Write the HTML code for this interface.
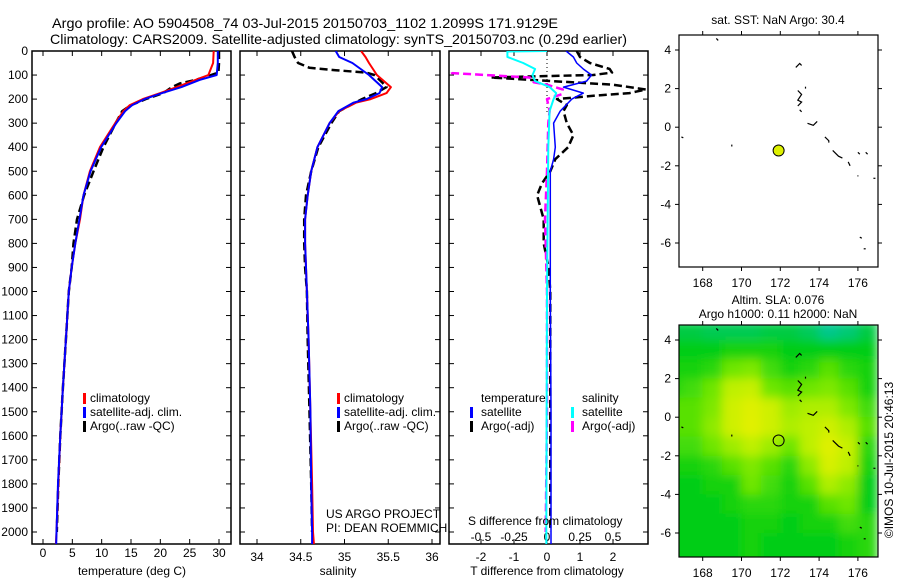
<!DOCTYPE html>
<html><head><meta charset="utf-8"><style>
html,body{margin:0;padding:0;background:#fff;}
svg{display:block;font-family:"Liberation Sans",sans-serif;}
</style></head><body>
<svg id="fig" width="900" height="580" viewBox="0 0 900 580" xmlns="http://www.w3.org/2000/svg">
<text x="52" y="28" font-size="14" textLength="506" lengthAdjust="spacingAndGlyphs">Argo profile: AO 5904508_74 03-Jul-2015 20150703_1102 1.2099S 171.9129E</text>
<text x="50" y="44" font-size="14" textLength="577" lengthAdjust="spacingAndGlyphs">Climatology: CARS2009. Satellite-adjusted climatology: synTS_20150703.nc (0.29d earlier)</text>
<g id="g"></g>
</svg>
<script>
// ---------- data ----------
const depthTicks = [0,100,200,300,400,500,600,700,800,900,1000,1100,1200,1300,1400,1500,1600,1700,1800,1900,2000];
const tempTicks = [0,5,10,15,20,25,30];
const salTicks = [34,34.5,35,35.5,36];
const tdiffTicks = [-2,-1,0,1,2];
const sdiffTicks = [-0.5,-0.25,0,0.25,0.5];
const sdiffTickLabels = ["-0.5","-0.25","0","0.25","0.5"];

const tDepth = [0,50,100,120,150,175,200,225,250,300,400,500,600,700,800,900,1000,1200,1400,1600,1800,2000,2050];
const tClim = [29.1,29.0,28.2,26.0,22.8,20.0,17.0,14.8,13.7,12.3,9.7,8.0,6.9,6.3,5.5,4.9,4.4,3.9,3.4,2.95,2.6,2.3,2.2];
const tSat  = [29.8,29.8,29.6,26.7,23.6,20.3,17.3,15.2,14.0,12.5,9.9,8.1,6.9,6.2,5.5,4.9,4.4,3.9,3.4,2.95,2.55,2.3,2.25];
const tArgoDepth = [0,50,90,105,120,135,150,175,200,225,250,300,400,500,550,600,700,800,900,1000,1200,1400,1600,1800,2000];
const tArgo = [30.0,30.0,29.9,28.0,26.0,23.3,22.0,20.5,17.5,15.0,13.5,12.4,10.3,8.6,7.8,7.0,5.8,5.2,4.9,4.4,3.9,3.4,2.95,2.6,2.35];

const sDepth = [0,25,50,100,150,175,200,215,250,300,400,500,600,700,800,1000,1200,1500,1800,2000,2050];
const sClim = [35.19,35.24,35.28,35.37,35.53,35.48,35.30,35.13,34.94,34.83,34.69,34.62,34.58,34.55,34.55,34.57,34.59,34.61,34.63,34.64,34.65];
const sSat  = [34.90,34.94,35.09,35.28,35.43,35.40,35.25,35.10,34.93,34.83,34.69,34.62,34.58,34.55,34.55,34.57,34.59,34.61,34.62,34.63,34.63];
const sArgoDepth = [0,25,50,70,80,90,100,130,150,175,200,250,300,400,500,600,700,800,900,1000,1200,1500,1800,2000];
const sArgo = [34.40,34.43,34.47,34.60,34.90,35.25,35.34,35.43,35.48,35.36,35.20,34.94,34.85,34.70,34.62,34.56,34.54,34.54,34.55,34.57,34.58,34.60,34.62,34.63];

const dTSatDepth = [0,25,50,75,100,125,150,175,200,250,300,400,450,500,700,1000,1500,2000,2050];
const dTSat = [0.58,0.8,0.9,1.1,1.35,1.2,0.5,1.1,0.75,0.4,0.2,0.25,0.2,0.1,0.1,0.1,0.12,0.12,0.12];
const dTArgoDepth = [0,25,50,75,90,100,105,110,140,160,175,185,200,225,250,300,350,400,450,500,550,600,650,700,800,900,1000,1500,2000];
const dTArgo = [0.9,1.0,1.3,1.9,1.97,1.4,-0.3,-1.7,2.0,3.0,2.5,1.5,0.3,0.6,0.5,0.6,0.8,0.64,0.25,0.1,-0.15,-0.3,-0.2,-0.1,-0.1,0.05,0.1,0.1,0.1];
const dSSatDepth = [0,2,25,50,75,100,125,150,175,200,250,400,1000,2000,2050];
const dSSat = [0.0,-0.3,-0.3,-0.18,-0.09,-0.11,-0.09,0.02,0.07,0.05,0.02,0.01,0.0,-0.005,-0.005];
const dSArgoDepth = [88,92,110,130,140,160,180,200,250,300,500,700,1000,1500,2000];
const dSArgo = [-0.72,-0.72,-0.13,-0.1,0.0,0.12,0.11,0.0,0.02,0.01,0.0,-0.015,0.0,0.0,-0.01];

const lonTicks = [168,170,172,174,176];
const latTicks = [4,2,0,-2,-4,-6];
const floatLon = 171.9129, floatLat = -1.2099;
// SLA heatmap: rows lat 5..-8 (top edge of each 1° row), cols lon 166..176
const slaRowTop = [5,4,3,2,1,0,-1,-2,-3,-4,-5,-6,-7];
const slaColLeft = [166,167,168,169,170,171,172,173,174,175,176];
const slaValues = [
 [0.15,0.15,0.12,0.12,0.12,0.15,0.15,0.1,0.0,0.05,0.15],
 [0.25,0.25,0.25,0.3,0.3,0.3,0.25,0.25,0.25,0.25,0.25],
 [0.3,0.3,0.35,0.5,0.55,0.4,0.3,0.35,0.45,0.35,0.3],
 [0.35,0.4,0.5,0.75,0.8,0.5,0.45,0.5,0.55,0.45,0.3],
 [0.45,0.45,0.55,0.85,0.95,0.85,0.65,0.7,0.7,0.55,0.4],
 [0.45,0.45,0.6,0.85,0.97,0.85,0.7,0.75,0.85,0.7,0.45],
 [0.4,0.4,0.5,0.65,0.75,0.65,0.5,0.75,0.95,0.8,0.35],
 [0.3,0.3,0.35,0.45,0.55,0.45,0.35,0.6,0.9,0.75,0.3],
 [0.25,0.25,0.3,0.3,0.5,0.4,0.3,0.45,0.7,0.6,0.25],
 [0.25,0.25,0.25,0.3,0.35,0.35,0.3,0.3,0.45,0.5,0.25],
 [0.25,0.25,0.25,0.25,0.3,0.3,0.25,0.3,0.3,0.4,0.35],
 [0.25,0.25,0.25,0.25,0.3,0.25,0.25,0.25,0.25,0.3,0.35],
 [0.25,0.25,0.25,0.25,0.3,0.25,0.25,0.25,0.25,0.3,0.35]
];
const islands = [
 [[168.7,4.6],[168.8,4.5]],
 [[172.8,3.1],[173.0,3.3],[173.1,3.2]],
 [[172.9,1.9],[173.1,1.7],[172.9,1.4],[173.1,1.3],[172.9,1.1]],
 [[173.3,2.1],[173.3,2.0]],
 [[173.0,0.9],[173.1,0.8]],
 [[173.4,0.2],[173.7,0.1],[173.9,0.3]],
 [[174.3,-0.5],[174.5,-0.7],[174.5,-0.8]],
 [[174.7,-1.2],[175.0,-1.5],[175.2,-1.6]],
 [[175.5,-1.8],[175.6,-2.0]],
 [[176.0,-1.3],[176.1,-1.4]],
 [[176.4,-1.3],[176.5,-1.4]],
 [[176.0,-2.5],[176.0,-2.55]],
 [[176.8,-2.65],[176.9,-2.65]],
 [[176.1,-5.7],[176.2,-5.75]],
 [[176.3,-6.3],[176.4,-6.3]],
 [[169.5,-0.9],[169.5,-1.0]],
 [[166.9,-0.5],[167.0,-0.55]]
];

// ---------- helpers ----------
const NS="http://www.w3.org/2000/svg";
const root=document.getElementById('g');
function el(tag,attrs,parent){const e=document.createElementNS(NS,tag);for(const k in attrs)e.setAttribute(k,attrs[k]);(parent||root).appendChild(e);return e;}
function txt(x,y,s,size,anchor,parent){const t=el('text',{x:x,y:y,'font-size':size||12,'text-anchor':anchor||'start'},parent);t.textContent=s;return t;}

const Y0=51, PPM=481/2000;
const yD=d=>Y0+d*PPM;
const PT=51, PB=544;
const xT=v=>43+v*(176/30);
const xS=v=>257+(v-34)*87.5;
const xDT=v=>547+v*33;
const xDS=v=>547+v*132;

function panel(x0,x1,name){
  const g=el('g',{});
  
  
  const r=el('rect',{x:x0,y:PT,width:x1-x0,height:PB-PT,fill:'none',stroke:'#000','stroke-width':1.5},g);
  
  
  depthTicks.forEach(d=>{
    const y=yD(d);
    el('line',{x1:x0,y1:y,x2:x0+5,y2:y,stroke:'#000'},g);
    el('line',{x1:x1-5,y1:y,x2:x1,y2:y,stroke:'#000'},g);
  });
  return g;
}
function xticks(g,ticks,fx,labels,ly){
  ticks.forEach((v,i)=>{
    const x=fx(v);
    el('line',{x1:x,y1:PB,x2:x,y2:PB-5,stroke:'#000'},g);
    el('line',{x1:x,y1:PT,x2:x,y2:PT+5,stroke:'#000'},g);
    if(labels){const t=txt(x,ly,labels[i],12,'middle',g);
      
      }
  });
}
function line(g,depths,vals,fx,color,w,dash,name,clip){
  const pts=depths.map((d,i)=>fx(vals[i]).toFixed(1)+','+yD(d).toFixed(1)).join(' ');
  const p=el('polyline',{points:pts,fill:'none',stroke:color,'stroke-width':w,'stroke-linejoin':'round','clip-path':'url(#'+clip+')'},g);
  if(dash)p.setAttribute('stroke-dasharray',dash);
  
  
}
const defs=el('defs',{});
[['c1',32,231],['c2',240,440],['c3',449,648]].forEach(c=>{
  const cp=el('clipPath',{id:c[0]},defs);
  el('rect',{x:c[1],y:PT,width:c[2]-c[1],height:PB-PT},cp);
});
const flt=el('filter',{id:'blur',x:'0',y:'0',width:'1',height:'1'},defs);
el('feGaussianBlur',{stdDeviation:5,edgeMode:'duplicate'},flt);
function legendBar(g,x,y,color){el('rect',{x:x,y:y-9,width:3,height:11,fill:color},g);}

// ---------- panel 1: temperature ----------
const p1=panel(32,231,'temperature-panel');
depthTicks.forEach(d=>{const t=txt(28,yD(d)+4,String(d),12,'end',p1);
  
  });
xticks(p1,tempTicks,xT,tempTicks.map(String),557);
line(p1,tArgoDepth,tArgo,xT,'#000',2.5,'8,4','temp-argo-line','c1');
line(p1,tDepth,tClim,xT,'#f00',2,null,'temp-climatology-line','c1');
line(p1,tDepth,tSat,xT,'#00f',2,null,'temp-satellite-line','c1');
let t=txt(132,575,'temperature (deg C)',12,'middle',p1);

legendBar(p1,83,402,'#f00');legendBar(p1,83,416,'#00f');legendBar(p1,83,430,'#000');
txt(90,402,'climatology',12,'start',p1);txt(90,416,'satellite-adj. clim.',12,'start',p1);txt(90,430,'Argo(..raw -QC)',12,'start',p1);

// ---------- panel 2: salinity ----------
const p2=panel(240,440,'salinity-panel');
xticks(p2,salTicks,xS,salTicks.map(String),561);
line(p2,sArgoDepth,sArgo,xS,'#000',2.5,'8,4','sal-argo-line','c2');
line(p2,sDepth,sClim,xS,'#f00',2,null,'sal-climatology-line','c2');
line(p2,sDepth,sSat,xS,'#00f',2,null,'sal-satellite-line','c2');
t=txt(338,575,'salinity',12,'middle',p2);

legendBar(p2,337,402,'#f00');legendBar(p2,337,416,'#00f');legendBar(p2,337,430,'#000');
txt(344,402,'climatology',12,'start',p2);txt(344,416,'satellite-adj. clim.',12,'start',p2);txt(344,430,'Argo(..raw -QC)',12,'start',p2);
txt(326,518,'US ARGO PROJECT',12,'start',p2);txt(326,532,'PI: DEAN ROEMMICH',12,'start',p2);

// ---------- panel 3: differences ----------
const p3=panel(449,648,'difference-panel');
xticks(p3,tdiffTicks,xDT,tdiffTicks.map(String),561);
sdiffTicks.forEach((v,i)=>{const tt=txt(xDS(v),541,sdiffTickLabels[i],12,'middle',p3);
  });
el('line',{x1:xDT(0),y1:PT,x2:xDT(0),y2:yD(260),stroke:'#000','stroke-dasharray':'1,3'},p3);
line(p3,dTArgoDepth,dTArgo,xDT,'#000',2.5,'8,4','tdiff-argo-line','c3');
line(p3,dSArgoDepth,dSArgo,xDS,'#f0f',2.5,'8,4','sdiff-argo-line','c3');
line(p3,dTSatDepth,dTSat,xDT,'#00f',1.5,null,'tdiff-satellite-line','c3');
line(p3,dSSatDepth,dSSat,xDS,'#0ff',2,null,'sdiff-satellite-line','c3');
txt(468,525,'S difference from climatology',12,'start',p3);
t=txt(547,575,'T difference from climatology',12,'middle',p3);

txt(481,402,'temperature',12,'start',p3);txt(582,402,'salinity',12,'start',p3);
legendBar(p3,470,416,'#00f');legendBar(p3,470,430,'#000');legendBar(p3,571,416,'#0ff');legendBar(p3,571,430,'#f0f');
txt(481,416,'satellite',12,'start',p3);txt(481,430,'Argo(-adj)',12,'start',p3);
txt(582,416,'satellite',12,'start',p3);txt(582,430,'Argo(-adj)',12,'start',p3);

// ---------- maps ----------
const ML=679, MR=878;
const xL=v=>702.7+(v-168)*19.4;
function mapPanel(top,bottom,name,heat){
  const yL=v=>(top+15)+(4-v)*19.3;
  const g=el('g',{});
  
  
  const cid='clip-'+name;
  const cp=el('clipPath',{id:cid},defs);
  el('rect',{x:ML,y:top,width:MR-ML,height:bottom-top},cp);
  if(heat){
    const outer=el('g',{'clip-path':'url(#'+cid+')'},g);
    const hg=el('g',{filter:'url(#blur)'},outer);
    slaValues.forEach((row,ri)=>row.forEach((v,ci)=>{
      const x0=xL(slaColLeft[ci]),x1=xL(slaColLeft[ci]+1),y0=yL(slaRowTop[ri]),y1=yL(slaRowTop[ri]-1);
      const c=slaColor(v);
      const r=el('rect',{x:x0.toFixed(1),y:y0.toFixed(1),width:(x1-x0+0.6).toFixed(1),height:(y1-y0+0.6).toFixed(1),fill:c},hg);
      
      
    }));
  }
  const ig=el('g',{'clip-path':'url(#'+cid+')'},g);
  islands.forEach(pl=>{
    const p=el('polyline',{points:pl.map(q=>xL(q[0]).toFixed(1)+','+yL(q[1]).toFixed(1)).join(' '),fill:'none',stroke:'#000','stroke-width':1.2},ig);
    
    
  });
  const fr=el('rect',{x:ML,y:top,width:MR-ML,height:bottom-top,fill:'none',stroke:'#000','stroke-width':1.2},g);
  
  lonTicks.forEach(v=>{const x=xL(v);
    el('line',{x1:x,y1:top,x2:x,y2:top-4,stroke:'#000'},g);
    el('line',{x1:x,y1:bottom,x2:x,y2:bottom+4,stroke:'#000'},g);
    const tt=txt(x,bottom+20,String(v),12,'middle',g);
    });
  latTicks.forEach(v=>{const y=yL(v);
    el('line',{x1:ML,y1:y,x2:ML-4,y2:y,stroke:'#000'},g);
    el('line',{x1:MR,y1:y,x2:MR+4,y2:y,stroke:'#000'},g);
    const tt=txt(ML-8,y+4,String(v),12,'end',g);
    });
  const c=el('circle',{cx:xL(floatLon),cy:yL(floatLat),r:5.5,fill:heat?'none':'#ddf000',stroke:'#000','stroke-width':1},g);
  
}
function slaColor(v){
  const stops=[[0,[0,200,140]],[0.25,[0,205,20]],[0.5,[110,230,0]],[0.75,[190,240,0]],[1,[230,240,0]]];
  for(let i=1;i<stops.length;i++){if(v<=stops[i][0]){const a=stops[i-1],b=stops[i],f=(v-a[0])/(b[0]-a[0]);
    return 'rgb('+a[1].map((c,k)=>Math.round(c+(b[1][k]-c)*f)).join(',')+')';}}
  return 'rgb(230,240,0)';
}
mapPanel(35,267,'sst-map',false);
mapPanel(325,557,'sla-map',true);
txt(778,24,'sat. SST: NaN Argo: 30.4',12,'middle');
txt(778,304,'Altim. SLA: 0.076',12,'middle');
txt(778,318,'Argo h1000: 0.11 h2000: NaN',12,'middle');
const rot=txt(0,0,'\u00a9IMOS 10-Jul-2015 20:46:13',12,'middle');
rot.setAttribute('transform','translate(893,460) rotate(-90)');


</script>
</body></html>
